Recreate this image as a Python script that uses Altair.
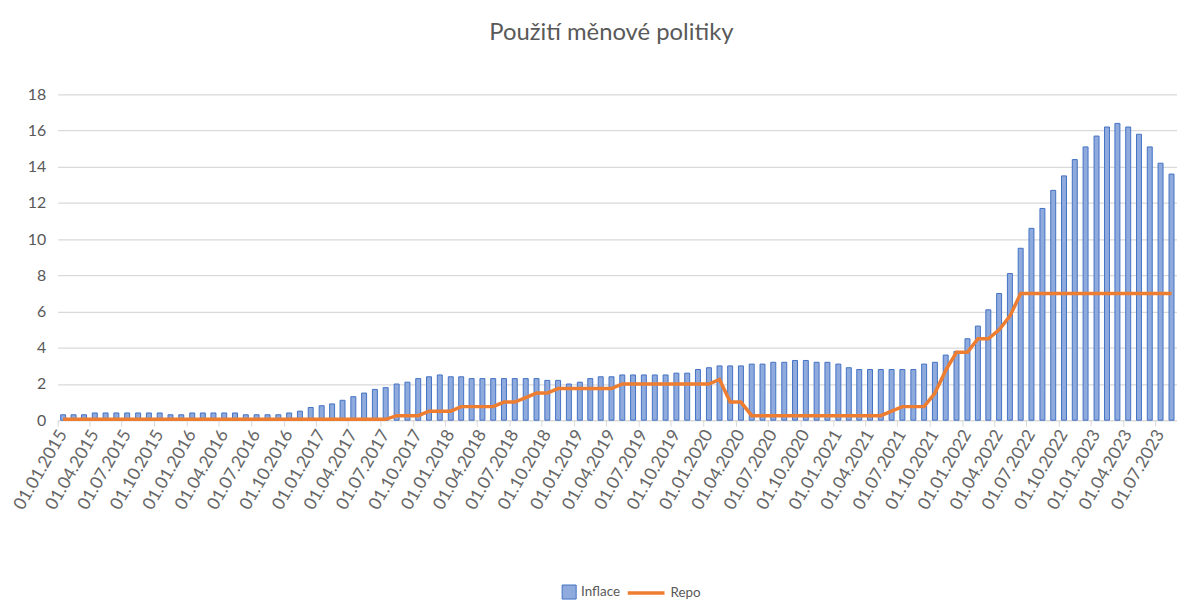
import altair as alt
import pandas as pd

FONT = "Lato, Open Sans, sans-serif"

# Monthly categories: 01.01.2015 ... 01.08.2023
months = [d.strftime("%Y-%m-%d") for d in pd.date_range("2015-01-01", periods=104, freq="MS")]

# Quarterly tick labels
tick_labels = [
    "01.01.2015", "01.04.2015", "01.07.2015", "01.10.2015",
    "01.01.2016", "01.04.2016", "01.07.2016", "01.10.2016",
    "01.01.2017", "01.04.2017", "01.07.2017", "01.10.2017",
    "01.01.2018", "01.04.2018", "01.07.2018", "01.10.2018",
    "01.01.2019", "01.04.2019", "01.07.2019", "01.10.2019",
    "01.01.2020", "01.04.2020", "01.07.2020", "01.10.2020",
    "01.01.2021", "01.04.2021", "01.07.2021", "01.10.2021",
    "01.01.2022", "01.04.2022", "01.07.2022", "01.10.2022",
    "01.01.2023", "01.04.2023", "01.07.2023",
]

y_ticks = [0, 2, 4, 6, 8, 10, 12, 14, 16, 18]

inflace = [
    # 2015
    0.3, 0.3, 0.3, 0.4, 0.4, 0.4, 0.4, 0.4, 0.4, 0.4, 0.3, 0.3,
    # 2016
    0.4, 0.4, 0.4, 0.4, 0.4, 0.3, 0.3, 0.3, 0.3, 0.4, 0.5, 0.7,
    # 2017
    0.8, 0.9, 1.1, 1.3, 1.5, 1.7, 1.8, 2.0, 2.1, 2.3, 2.4, 2.5,
    # 2018
    2.4, 2.4, 2.3, 2.3, 2.3, 2.3, 2.3, 2.3, 2.3, 2.2, 2.2, 2.0,
    # 2019
    2.1, 2.3, 2.4, 2.4, 2.5, 2.5, 2.5, 2.5, 2.5, 2.6, 2.6, 2.8,
    # 2020
    2.9, 3.0, 3.0, 3.0, 3.1, 3.1, 3.2, 3.2, 3.3, 3.3, 3.2, 3.2,
    # 2021
    3.1, 2.9, 2.8, 2.8, 2.8, 2.8, 2.8, 2.8, 3.1, 3.2, 3.6, 3.8,
    # 2022
    4.5, 5.2, 6.1, 7.0, 8.1, 9.5, 10.6, 11.7, 12.7, 13.5, 14.4, 15.1,
    # 2023
    15.7, 16.2, 16.4, 16.2, 15.8, 15.1, 14.2, 13.6,
]

repo = [
    # 2015
    0.05, 0.05, 0.05, 0.05, 0.05, 0.05, 0.05, 0.05, 0.05, 0.05, 0.05, 0.05,
    # 2016
    0.05, 0.05, 0.05, 0.05, 0.05, 0.05, 0.05, 0.05, 0.05, 0.05, 0.05, 0.05,
    # 2017
    0.05, 0.05, 0.05, 0.05, 0.05, 0.05, 0.05, 0.25, 0.25, 0.25, 0.5, 0.5,
    # 2018
    0.5, 0.75, 0.75, 0.75, 0.75, 1.0, 1.0, 1.25, 1.5, 1.5, 1.75, 1.75,
    # 2019
    1.75, 1.75, 1.75, 1.75, 2.0, 2.0, 2.0, 2.0, 2.0, 2.0, 2.0, 2.0,
    # 2020
    2.0, 2.25, 1.0, 1.0, 0.25, 0.25, 0.25, 0.25, 0.25, 0.25, 0.25, 0.25,
    # 2021
    0.25, 0.25, 0.25, 0.25, 0.25, 0.5, 0.75, 0.75, 0.75, 1.5, 2.75, 3.75,
    # 2022
    3.75, 4.5, 4.5, 5.0, 5.75, 7.0, 7.0, 7.0, 7.0, 7.0, 7.0, 7.0,
    # 2023
    7.0, 7.0, 7.0, 7.0, 7.0, 7.0, 7.0, 7.0,
]

df = pd.DataFrame({
    "date": months,
    "Inflace": inflace,
    "Repo": repo,
    "s1": "Inflace",
    "s2": "Repo",
})


def to_dt(label):
    d, m, y = label.split(".")
    return alt.DateTime(year=int(y), month=int(m), date=int(d), utc=True)


tick_values = [to_dt(t) for t in tick_labels]

GRAY = "#595959"

x_axis = alt.Axis(
    values=tick_values,
    format="%d.%m.%Y",
    labelAngle=-60,
    labelAlign="right",
    labelBaseline="middle",
    labelFontSize=17.5,
    labelFont=FONT,
    labelColor="#666666",
    labelOverlap=False,
    labelPadding=5,
    labelOffset=5,
    domainColor="#d9d9d9",
    domainWidth=1.3,
    tickColor="#d9d9d9",
    tickSize=6,
    grid=False,
    title=None,
)

y_axis = alt.Axis(
    values=y_ticks,
    grid=True,
    gridColor="#d9d9d9",
    gridWidth=1.3,
    domain=False,
    ticks=False,
    labelFontSize=16,
    labelFont=FONT,
    labelColor=GRAY,
    labelPadding=12,
    title=None,
)

x_scale = alt.Scale(type="utc", domain=[to_dt("01.01.2015"), to_dt("01.09.2023")])
y_scale = alt.Scale(domain=[0, 18])

bars = alt.Chart(df).mark_bar(size=5, stroke="#4472C4", strokeWidth=1).encode(
    x=alt.X("utcyearmonth(date):T", bandPosition=0.5, scale=x_scale, axis=x_axis),
    y=alt.Y("Inflace:Q", scale=y_scale, axis=y_axis),
    fill=alt.Fill(
        "s1:N",
        scale=alt.Scale(domain=["Inflace"], range=["#8FAADC"]),
        legend=alt.Legend(
            orient="none", legendX=507, legendY=493, title=None,
            symbolType="square", symbolSize=200, symbolStrokeColor="#4472C4",
            symbolStrokeWidth=1, labelFontSize=13.5, labelFont=FONT, labelColor=GRAY,
        ),
    ),
)

line = alt.Chart(df).mark_line(strokeWidth=3.5).encode(
    x=alt.X("utcyearmonth(date):T", bandPosition=0.5, scale=x_scale, axis=x_axis),
    y=alt.Y("Repo:Q", scale=y_scale, axis=y_axis),
    stroke=alt.Stroke(
        "s2:N",
        scale=alt.Scale(domain=["Repo"], range=["#ED7D31"]),
        legend=alt.Legend(
            orient="none", legendX=572, legendY=481.5, title=None,
            symbolType="stroke", symbolSize=1369, symbolStrokeWidth=3.5,
            labelFontSize=13.5, labelFont=FONT, labelColor=GRAY,
        ),
    ),
)

chart = alt.layer(bars, line).properties(
    width=1127,
    height=328,
    autosize=alt.AutoSizeParams(type="none"),
    padding={"left": 50, "top": 85, "right": 0, "bottom": 179},
    title=alt.TitleParams(
        "Použití měnové politiky",
        fontSize=24, font=FONT, color=GRAY, fontWeight="normal",
        anchor="middle", offset=42, dx=-6,
    ),
).configure_view(stroke=None)

chart.save("out.html", embed_options={"renderer": "svg", "actions": False})
